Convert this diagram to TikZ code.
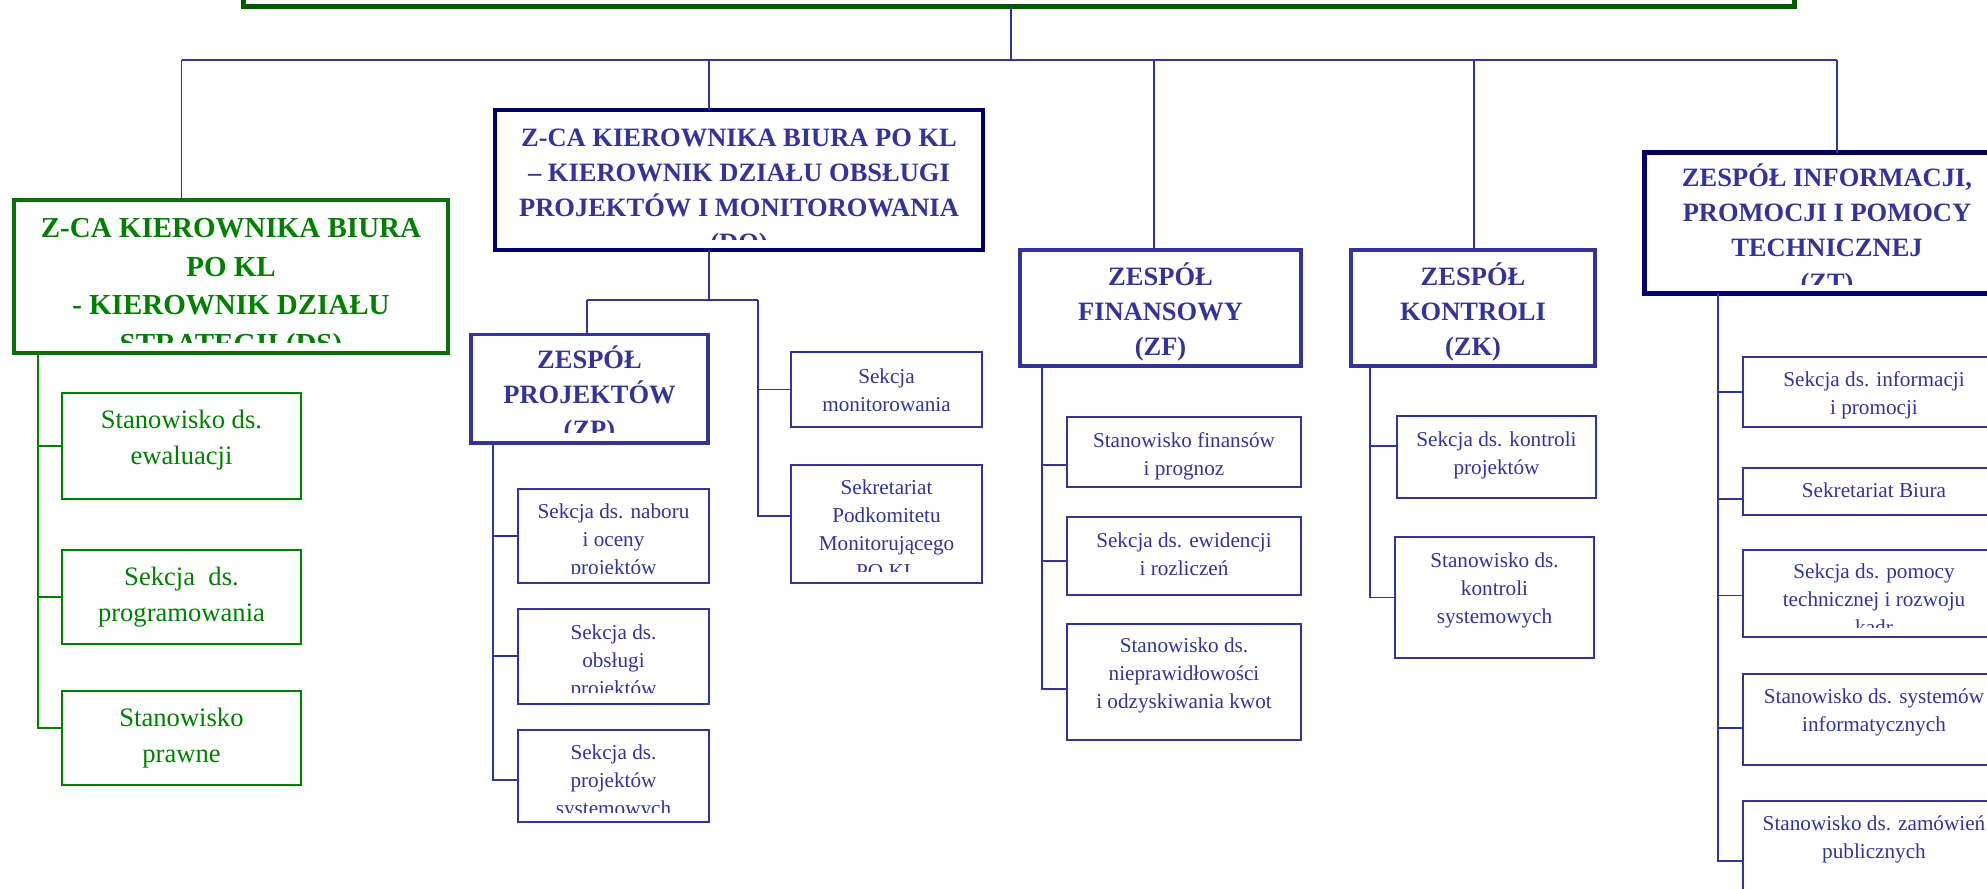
\documentclass[tikz,border=0pt]{standalone}
\usepackage{fontspec}
\setmainfont{Liberation Serif}

\definecolor{zblue}{RGB}{51,51,153}
\definecolor{znavy}{RGB}{0,0,102}
\definecolor{zgreen}{RGB}{0,128,0}
\definecolor{zgreenline}{RGB}{10,112,10}
\definecolor{zdark}{RGB}{0,90,0}

\tikzset{
  bxfont/.store in=\bxfont,
  bxoff/.store in=\bxoff,
  bxcut/.store in=\bxcut,
  bxcol/.store in=\bxcol,
  unit/.style={rectangle, inner sep=0pt, outer sep=0pt, anchor=north west, fill=white,
    draw=zblue, line width=2pt, bxcol=zblue, bxoff=30pt, bxcut=5pt,
    bxfont=\fontsize{21.2}{28}\selectfont},
  head/.style={unit, line width=3.5pt, bxoff=34.5pt, bxcut=10pt,
    bxfont=\bfseries\fontsize{26.5}{35}\selectfont},
  chief/.style={head, draw=znavy, line width=4.7pt},
  dshead/.style={head, draw=zgreenline, bxcol=zgreen, line width=4pt, bxoff=37.5pt,
    bxfont=\bfseries\fontsize{29}{38.5}\selectfont},
  dssub/.style={unit, draw=zgreen, bxcol=zgreen, line width=2.5pt, bxoff=35pt,
    bxfont=\fontsize{26.6}{36}\selectfont},
  txt/.style={path picture={
    \node[anchor=base, inner sep=0pt, draw=none, fill=none,
      minimum width=0pt, minimum height=0pt, font=\bxfont, text=\bxcol]
      at ([yshift=-\bxoff]path picture bounding box.north)
      {\begin{tabular}[t]{@{}c@{}}#1\end{tabular}};
    \fill[white] (path picture bounding box.south west) rectangle
      ([yshift=\bxcut]path picture bounding box.south east);}},
  link/.style={draw=zblue, line width=1.6pt},
  bus/.style={draw=zblue, line width=2.2pt},
}

\begin{document}
\begin{tikzpicture}[x=1pt,y=-1pt]
\useasboundingbox (0,0) rectangle (1987,889);

\node (kb) at (243,-60) [unit, draw=zdark, line width=5pt, minimum width=1551pt, minimum height=66pt] {};

\node (ds) at (14,200) [dshead, minimum width=434pt, minimum height=153pt,
  txt={Z-CA KIEROWNIKA BIURA\\PO KL\\- KIEROWNIK DZIAŁU\\STRATEGII (DS)}] {};
\node (do) at (495,110) [chief, bxoff=36.8pt, minimum width=488pt, minimum height=140pt,
  txt={Z-CA KIEROWNIKA BIURA PO KL\\– KIEROWNIK DZIAŁU OBSŁUGI\\PROJEKTÓW I MONITOROWANIA\\(DO)}] {};
\node (zf) at (1020,250) [head, bxoff=35.3pt, bxcut=4pt, minimum width=281pt, minimum height=116pt,
  txt={ZESPÓŁ\\FINANSOWY\\(ZF)}] {};
\node (zk) at (1351,250) [head, bxoff=35.3pt, bxcut=4pt, minimum width=244pt, minimum height=116pt,
  txt={ZESPÓŁ\\KONTROLI\\(ZK)}] {};
\node (zt) at (1644.5,152.5) [chief, bxoff=34pt, bxcut=9pt, minimum width=365pt, minimum height=141pt,
  txt={ZESPÓŁ INFORMACJI,\\PROMOCJI I POMOCY\\TECHNICZNEJ\\(ZT)}] {};
\node (zp) at (471,334.5) [head, bxoff=34pt, minimum width=237pt, minimum height=108.5pt,
  txt={ZESPÓŁ\\PROJEKTÓW\\(ZP)}] {};

\node (ds1) at (62,393) [dssub, minimum width=239pt, minimum height=106pt,
  txt={Stanowisko ds.\\ewaluacji}] {};
\node (ds2) at (62,550) [dssub, minimum width=239pt, minimum height=94pt,
  txt={Sekcja\ \ ds.\\programowania}] {};
\node (ds3) at (62,691) [dssub, minimum width=239pt, minimum height=94pt,
  txt={Stanowisko\\prawne}] {};

\node (zp1) at (518,488.7) [unit, bxcut=9pt, minimum width=191pt, minimum height=94.3pt,
  txt={Sekcja ds. naboru\\i oceny\\projektów}] {};
\node (zp2) at (518,608.5) [unit, bxoff=30.5pt, bxcut=11pt, minimum width=191pt, minimum height=95pt,
  txt={Sekcja ds.\\obsługi\\projektów}] {};
\node (zp3) at (518,729.7) [unit, bxcut=9.5pt, minimum width=191pt, minimum height=92.7pt,
  txt={Sekcja ds.\\projektów\\systemowych}] {};
\node (mon) at (791,352) [unit, bxoff=31pt, minimum width=191pt, minimum height=75pt,
  txt={Sekcja\\monitorowania}] {};
\node (sek) at (791,464.6) [unit, bxcut=11pt, minimum width=191pt, minimum height=118.4pt,
  txt={Sekretariat\\Podkomitetu\\Monitorującego\\PO KL}] {};

\node (zf1) at (1067,417) [unit, minimum width=234pt, minimum height=69.5pt,
  txt={Stanowisko finansów\\i prognoz}] {};
\node (zf2) at (1067,517) [unit, minimum width=234pt, minimum height=78pt,
  txt={Sekcja ds. ewidencji\\i rozliczeń}] {};
\node (zf3) at (1067,623.5) [unit, bxoff=29pt, minimum width=234pt, minimum height=116.5pt,
  txt={Stanowisko ds.\\nieprawidłowości\\i odzyskiwania kwot}] {};
\node (zk1) at (1397,416) [unit, minimum width=199pt, minimum height=82pt,
  txt={Sekcja ds. kontroli\\projektów}] {};
\node (zk2) at (1395,537) [unit, minimum width=199pt, minimum height=121pt,
  txt={Stanowisko ds.\\kontroli\\systemowych}] {};

\node (zt1) at (1743,357) [unit, bxoff=29pt, minimum width=262pt, minimum height=69.7pt,
  txt={Sekcja ds. informacji\\i promocji}] {};
\node (zt2) at (1743,468) [unit, bxoff=29.6pt, minimum width=262pt, minimum height=47pt,
  txt={Sekretariat Biura}] {};
\node (zt3) at (1743,550) [unit, bxoff=28pt, bxcut=9.5pt, minimum width=262pt, minimum height=87pt,
  txt={Sekcja ds. pomocy\\technicznej i rozwoju\\kadr}] {};
\node (zt4) at (1743,674) [unit, bxoff=29pt, minimum width=262pt, minimum height=90.5pt,
  txt={Stanowisko ds. systemów\\informatycznych}] {};
\node (zt5) at (1743,801) [unit, bxoff=29.6pt, minimum width=262pt, minimum height=160pt,
  txt={Stanowisko ds. zamówień\\publicznych}] {};

\coordinate (hub) at (1011,60);
\coordinate (bds) at (181.6,60);
\coordinate (bdo) at (709,60);
\coordinate (bzf) at (1154,60);
\coordinate (bzk) at (1474,60);
\coordinate (bzt) at (1837,60);
\coordinate (dox) at (709,300);
\coordinate (zpx) at (587,300);
\coordinate (dosx) at (758,300);
\coordinate (dss) at (37.7,354);
\coordinate (zps) at (493,443);
\coordinate (zfs) at (1042,366);
\coordinate (zks) at (1370,366);
\coordinate (zts) at (1717.7,293);

\draw[bus] (bds) -- (bzt);
\draw[link]
  (kb.south -| hub) -- (hub)
  (bds) -- (bds |- ds.north)
  (bdo) -- (bdo |- do.north)
  (bzf) -- (bzf |- zf.north)
  (bzk) -- (bzk |- zk.north)
  (bzt) -- (bzt |- zt.north)
  (dox |- do.south) -- (dox)
  (zpx) -- (dosx)
  (zpx) -- (zpx |- zp.north)
  (dosx) |- (mon)
  (dosx) |- ([yshift=8pt]sek.west)
  (zps) |- (zp1)
  (zps) |- (zp2)
  (zps) |- ([yshift=-4pt]zp3.west)
  (zfs) |- ([yshift=-13pt]zf1.west)
  (zfs) |- ([yshift=-4.7pt]zf2.west)
  (zfs) |- ([yshift=-7pt]zf3.west)
  (zks) |- ([yshift=11.3pt]zk1.west)
  (zks) |- (zk2)
  (zts) |- (zt1)
  (zts) |- ([yshift=-7.5pt]zt2.west)
  (zts) |- ([yshift=-2pt]zt3.west)
  (zts) |- ([yshift=-8.5pt]zt4.west)
  (zts) |- ([yshift=20pt]zt5.west)
  ;
\draw[link, draw=zgreen]
  (dss) |- (ds1)
  (dss) |- (ds2)
  (dss) |- ([yshift=10pt]ds3.west)
  ;
\end{tikzpicture}
\end{document}
